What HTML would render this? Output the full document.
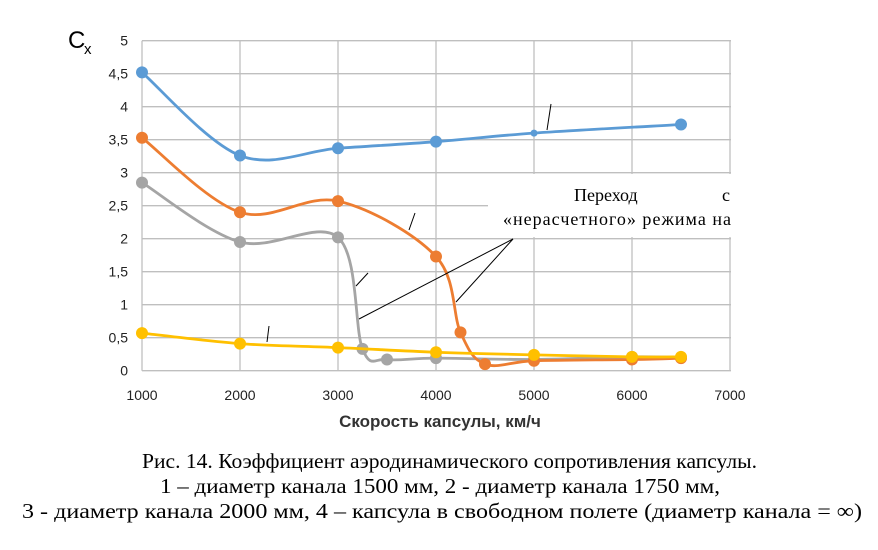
<!DOCTYPE html>
<html><head><meta charset="utf-8"><style>
body{margin:0;background:#fff;width:878px;height:550px;overflow:hidden}
svg{display:block}
</style></head><body>
<svg id="s" width="878" height="550" xmlns="http://www.w3.org/2000/svg" font-family="Liberation Sans, sans-serif">
<g id="grid" stroke="#bfbfbf" stroke-width="1.3"></g>
<rect x="488" y="174" width="245" height="63" fill="#fff"/>
<g id="series"></g>
<g stroke="#000" stroke-width="1" fill="none">
<line x1="513" y1="239" x2="456" y2="302"/>
<line x1="513" y1="239" x2="359" y2="319"/>
<line x1="551" y1="104" x2="547" y2="130"/>
<line x1="415" y1="213" x2="409" y2="230"/>
<line x1="368" y1="273" x2="356" y2="286"/>
<line x1="269" y1="326" x2="267" y2="342"/>
</g>
<g font-family="Liberation Serif, serif" font-size="18" fill="#000">
<text x="574" y="201">Переход</text><text x="722" y="201">с</text>
<text x="503" y="225" textLength="228" lengthAdjust="spacing">«нерасчетного» режима на</text>
</g>
<g id="labels" font-size="14" fill="#222"></g>
<text x="68" y="48" font-size="24" fill="#000">C</text><text x="84" y="54" font-size="15" fill="#000">x</text>
<text x="440" y="427" font-size="17" font-weight="bold" fill="#333" text-anchor="middle">Скорость капсулы, км/ч</text>
<g font-family="Liberation Serif, serif" font-size="21" fill="#000">
<text x="142" y="468" textLength="615" lengthAdjust="spacingAndGlyphs">Рис. 14. Коэффициент аэродинамического сопротивления капсулы.</text>
<text x="160" y="493" textLength="560" lengthAdjust="spacingAndGlyphs">1 – диаметр канала 1500 мм, 2 - диаметр канала 1750 мм,</text>
<text x="22" y="518" textLength="840" lengthAdjust="spacingAndGlyphs">3 - диаметр канала 2000 мм, 4 – капсула в свободном полете (диаметр канала = ∞)</text>
</g>
</svg>
<script>
var NS="http://www.w3.org/2000/svg";
function X(v){return 142+(v-1000)*0.098;}
function Y(v){return 370.7-v*66;}
function el(t,a,p){var e=document.createElementNS(NS,t);for(var k in a)e.setAttribute(k,a[k]);document.getElementById(p).appendChild(e);return e;}
for(var i=0;i<=10;i++){var y=Y(i*0.5);el("line",{x1:142,x2:731,y1:y,y2:y},"grid");
var t=el("text",{x:128,y:y+5,"text-anchor":"end"},"labels");t.textContent=(i*0.5).toString().replace(".",",");}
for(var i=1000;i<=7000;i+=1000){var x=X(i);el("line",{x1:x,x2:x,y1:Y(5),y2:Y(0)},"grid");
var t=el("text",{x:x,y:400,"text-anchor":"middle"},"labels");t.textContent=i;}
function path(pts){var d="M"+pts[0][0]+","+pts[0][1];for(var i=0;i<pts.length-1;i++){var p0=pts[i-1]||pts[i],p1=pts[i],p2=pts[i+1],p3=pts[i+2]||p2;
d+=" C"+(p1[0]+(p2[0]-p0[0])/6)+","+(p1[1]+(p2[1]-p0[1])/6)+" "+(p2[0]-(p3[0]-p1[0])/6)+","+(p2[1]-(p3[1]-p1[1])/6)+" "+p2[0]+","+p2[1];}return d;}
var S=[
["#5b9bd5",[[1000,4.52],[2000,3.26],[3000,3.37],[4000,3.47],[5000,3.6],[6500,3.73]],[5000]],
["#a5a5a5",[[1000,2.85],[2000,1.95],[3000,2.02],[3250,0.33],[3500,0.17],[4000,0.19],[5000,0.17],[6000,0.21],[6500,0.2]],[]],
["#ed7d31",[[1000,3.53],[2000,2.4],[3000,2.57],[4000,1.73],[4250,0.58],[4500,0.1],[5000,0.15],[6000,0.17],[6500,0.19]],[]],
["#ffc000",[[1000,0.57],[2000,0.41],[3000,0.35],[4000,0.28],[5000,0.24],[6000,0.21],[6500,0.21]],[]]];
S.forEach(function(s){var pts=s[1].map(function(p){return [X(p[0]),Y(p[1])];});
el("path",{d:path(pts),stroke:s[0],"stroke-width":2.8,fill:"none"},"series");
s[1].forEach(function(p,i){el("circle",{cx:pts[i][0],cy:pts[i][1],r:s[2].indexOf(p[0])>=0?3.5:6,fill:s[0]},"series");});});
</script>
</body></html>
